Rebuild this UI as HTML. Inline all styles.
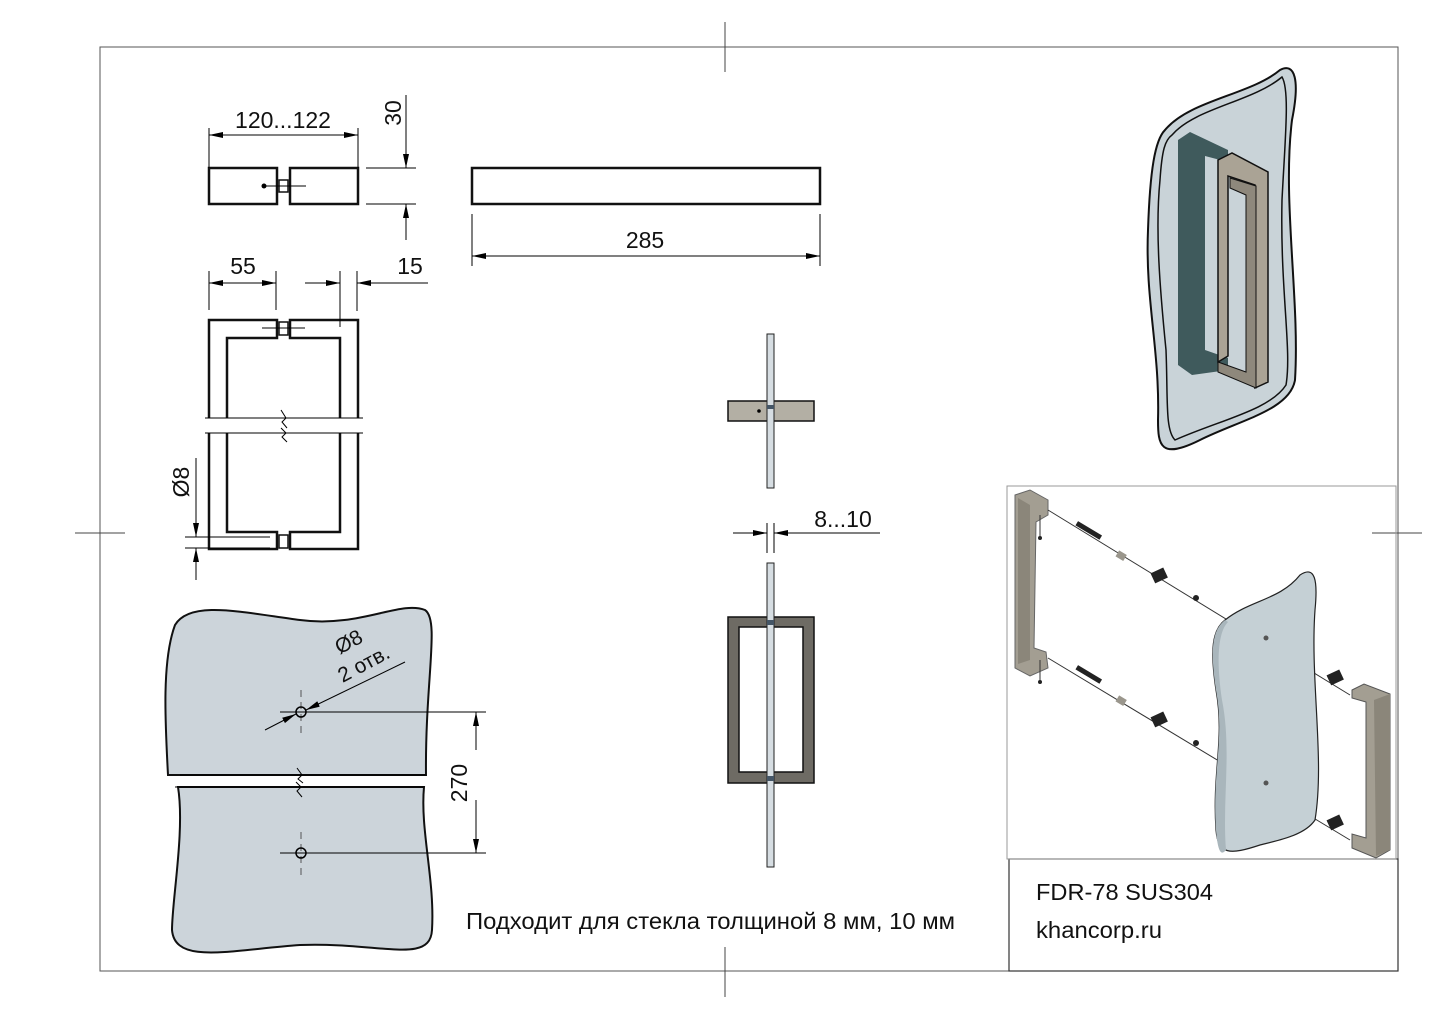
<!DOCTYPE html>
<html><head><meta charset="utf-8"><style>
html,body{margin:0;padding:0;background:#fff;}
svg{display:block;}
text{font-family:"Liberation Sans","DejaVu Sans",sans-serif;fill:#111;}
</style></head><body>
<svg width="1444" height="1021" viewBox="0 0 1444 1021" xmlns="http://www.w3.org/2000/svg">
<defs>
<marker id="a" viewBox="0 0 14 6" refX="14" refY="3" markerWidth="14" markerHeight="6" orient="auto" markerUnits="userSpaceOnUse"><path d="M0,0 L14,3 L0,6 z" fill="#000"/></marker>
</defs>
<rect width="1444" height="1021" fill="#fff"/>
<rect x="100" y="47" width="1298" height="924" fill="none" stroke="#555" stroke-width="1"/>
<g stroke="#444" stroke-width="1">
<line x1="725" y1="22" x2="725" y2="72"/><line x1="725" y1="947" x2="725" y2="997"/>
<line x1="75" y1="533" x2="125" y2="533"/><line x1="1372" y1="533" x2="1422" y2="533"/>
</g>
<rect x="1009" y="859" width="389" height="112" fill="none" stroke="#333" stroke-width="1.2"/>
<text x="1036" y="900" font-size="23" textLength="177" lengthAdjust="spacingAndGlyphs">FDR-78 SUS304</text>
<text x="1036" y="938" font-size="23" textLength="126" lengthAdjust="spacingAndGlyphs">khancorp.ru</text>
<rect x="1007" y="486" width="389" height="373" fill="none" stroke="#999" stroke-width="1"/>

<g stroke="#111" stroke-width="2.5" fill="none">
<rect x="209" y="168" width="68" height="36"/><rect x="290" y="168" width="68" height="36"/>
<rect x="279" y="180" width="9" height="12" stroke-width="1.5"/>
</g>
<circle cx="264" cy="186" r="2.5" fill="#000"/>
<line x1="264" y1="186" x2="306" y2="186" stroke="#000" stroke-width="1"/>
<g stroke="#000" stroke-width="1">
<line x1="209" y1="128" x2="209" y2="168"/><line x1="358" y1="128" x2="358" y2="168"/>
<line x1="225" y1="135" x2="209" y2="135" marker-end="url(#a)"/><line x1="225" y1="135" x2="358" y2="135" marker-end="url(#a)"/>
<line x1="366" y1="168" x2="416" y2="168"/><line x1="366" y1="204" x2="416" y2="204"/>
<line x1="406" y1="95" x2="406" y2="168" marker-end="url(#a)"/><line x1="406" y1="240" x2="406" y2="204" marker-end="url(#a)"/>
</g>
<text x="283" y="128" font-size="23" text-anchor="middle">120...122</text>
<text transform="translate(401,113) rotate(-90)" font-size="23" text-anchor="middle">30</text>

<rect x="472" y="168" width="348" height="36" fill="none" stroke="#111" stroke-width="2.5"/>
<g stroke="#000" stroke-width="1">
<line x1="472" y1="214" x2="472" y2="266"/><line x1="820" y1="214" x2="820" y2="266"/>
<line x1="600" y1="256" x2="472" y2="256" marker-end="url(#a)"/><line x1="600" y1="256" x2="820" y2="256" marker-end="url(#a)"/>
</g>
<text x="645" y="248" font-size="23" text-anchor="middle">285</text>

<g stroke="#111" stroke-width="2.5" fill="none">
<path d="M209,418 V320 H277 V338 H227 V418"/>
<path d="M358,418 V320 H290 V338 H340 V418"/>
<path d="M209,433 V549 H277 V532 H227 V433"/>
<path d="M358,433 V549 H290 V532 H340 V433"/>
<rect x="279" y="322" width="9" height="13" stroke-width="1.5"/>
<rect x="279" y="535" width="9" height="13" stroke-width="1.5"/>
</g>
<g stroke="#000" stroke-width="1" fill="none">
<line x1="205" y1="418" x2="363" y2="418"/><line x1="205" y1="433" x2="363" y2="433"/>
<path d="M281,410 L286,418 L282,422 L287,428"/><path d="M281,428 L286,433 L282,437 L287,442"/>
<line x1="262" y1="328" x2="305" y2="328"/>
<line x1="209" y1="271" x2="209" y2="310"/><line x1="276" y1="271" x2="276" y2="310"/>
<line x1="240" y1="283" x2="209" y2="283" marker-end="url(#a)"/><line x1="240" y1="283" x2="276" y2="283" marker-end="url(#a)"/>
<line x1="340" y1="271" x2="340" y2="327"/><line x1="357" y1="271" x2="357" y2="311"/>
<line x1="305" y1="283" x2="340" y2="283" marker-end="url(#a)"/><line x1="428" y1="283" x2="357" y2="283" marker-end="url(#a)"/>
<line x1="185" y1="537" x2="270" y2="537"/><line x1="185" y1="548" x2="270" y2="548"/>
<line x1="196" y1="458" x2="196" y2="537" marker-end="url(#a)"/><line x1="196" y1="580" x2="196" y2="548" marker-end="url(#a)"/>
</g>
<text x="243" y="274" font-size="23" text-anchor="middle">55</text>
<text x="410" y="274" font-size="23" text-anchor="middle">15</text>
<text transform="translate(189,482) rotate(-90)" font-size="23" text-anchor="middle">Ø8</text>

<path d="M168,775 C165,720 162,660 175,625 C190,600 240,612 300,620 C360,628 400,600 425,610 C440,620 425,680 426,775 Z" fill="#ccd4da" stroke="#111" stroke-width="2"/>
<path d="M178,787 C185,830 172,900 172,930 C175,965 230,950 300,945 C380,942 430,965 432,930 C435,880 420,830 424,787 Z" fill="#ccd4da" stroke="#111" stroke-width="2"/>
<g stroke="#000" stroke-width="1" fill="none">
<line x1="180" y1="775" x2="426" y2="775"/><line x1="175" y1="787" x2="424" y2="787"/>
<path d="M297,768 L302,775 L298,779 L303,783"/><path d="M296,782 L301,787 L297,791 L302,797"/>
<line x1="301" y1="690" x2="301" y2="735" stroke="#555" stroke-dasharray="7,5"/>
<line x1="301" y1="832" x2="301" y2="875" stroke="#555" stroke-dasharray="7,5"/>
<circle cx="301" cy="712" r="5" stroke-width="1.5"/><circle cx="301" cy="853" r="5" stroke-width="1.5"/>
<line x1="280" y1="712" x2="486" y2="712"/><line x1="280" y1="853" x2="486" y2="853"/>
<line x1="476" y1="750" x2="476" y2="712" marker-end="url(#a)"/><line x1="476" y1="800" x2="476" y2="853" marker-end="url(#a)"/>
<line x1="265" y1="730" x2="296" y2="714" marker-end="url(#a)"/>
<line x1="405" y1="662" x2="306" y2="710" marker-end="url(#a)"/>
</g>
<text transform="translate(467,783) rotate(-90)" font-size="23" text-anchor="middle">270</text>
<text transform="translate(352,648) rotate(-28)" font-size="21" text-anchor="middle">Ø8</text>
<text transform="translate(367,670) rotate(-28)" font-size="21" text-anchor="middle">2 отв.</text>

<text x="466" y="929" font-size="23" textLength="489" lengthAdjust="spacingAndGlyphs">Подходит для стекла толщиной 8 мм, 10 мм</text>

<rect x="728" y="401" width="86" height="20" fill="#b3afa4" stroke="#111" stroke-width="1.5"/>
<rect x="767" y="334" width="7" height="154" fill="#d6dde2" stroke="#222" stroke-width="1"/>
<circle cx="759" cy="411" r="1.8" fill="#000"/>
<rect x="767" y="405" width="7" height="4" fill="#456"/>
<g stroke="#000" stroke-width="1">
<line x1="767" y1="523" x2="767" y2="553"/><line x1="774" y1="523" x2="774" y2="553"/>
<line x1="733" y1="533" x2="767" y2="533" marker-end="url(#a)"/><line x1="880" y1="533" x2="774" y2="533" marker-end="url(#a)"/>
</g>
<text x="843" y="527" font-size="23" text-anchor="middle">8...10</text>
<path d="M728,617 H814 V783 H728 Z M739,627 V772 H803 V627 Z" fill="#6e6b64" fill-rule="evenodd" stroke="#111" stroke-width="1.5"/>
<rect x="767" y="563" width="7" height="304" fill="#d6dde2" stroke="#222" stroke-width="1"/>
<rect x="767" y="620" width="7" height="5" fill="#456"/><rect x="767" y="776" width="7" height="5" fill="#456"/>

<path d="M1165,130 C1190,100 1250,95 1280,70 C1295,62 1300,80 1292,120 C1282,200 1300,300 1295,380 C1290,410 1240,420 1200,440 C1160,460 1158,445 1158,420 C1160,350 1145,300 1148,230 C1150,170 1155,140 1165,130 Z" fill="#c9d3d8" stroke="#111" stroke-width="2"/>
<path d="M1172,135 C1195,108 1252,102 1282,77 C1290,90 1285,140 1282,200 C1280,290 1292,350 1286,385 C1270,410 1220,420 1175,440 C1165,430 1168,400 1166,350 C1160,290 1155,230 1160,180 C1162,150 1165,140 1172,135 Z" fill="#c9d3d8" stroke="#111" stroke-width="1.5"/>
<path d="M1178,140 L1190,132 L1228,150 L1228,162 L1205,156 L1205,350 L1228,358 L1228,370 L1192,375 L1178,365 Z" fill="#3f5a5c"/>
<path d="M1218,160 L1232,153 L1268,172 L1268,382 L1255,388 L1255,185 L1228,176 L1228,356 L1218,362 Z" fill="#aaa395" stroke="#111" stroke-width="1.5"/>
<path d="M1230,178 L1256,186 L1256,388 L1218,372 L1218,362 L1246,372 L1246,195 L1230,188 Z" fill="#8e887c" stroke="#111" stroke-width="1"/>

<path d="M1015,495 L1030,490 L1048,500 L1048,515 L1036,522 L1034,648 L1046,652 L1048,668 L1030,676 L1015,668 Z" fill="#a39e92" stroke="#666" stroke-width="1"/>
<path d="M1018,498 L1030,505 L1030,660 L1018,664 Z" fill="#8b867a"/>
<g stroke="#333" stroke-width="1">
<line x1="1048" y1="510" x2="1350" y2="695"/>
<line x1="1048" y1="658" x2="1350" y2="840"/>
<line x1="1040" y1="515" x2="1040" y2="536"/><line x1="1040" y1="660" x2="1040" y2="680"/>
</g>
<g fill="#222">
<rect x="1075" y="528" width="28" height="5" transform="rotate(31 1089 530)"/>
<rect x="1075" y="672" width="28" height="5" transform="rotate(31 1089 674)"/>
<rect x="1152" y="570" width="14" height="11" transform="rotate(-25 1159 575)"/>
<rect x="1152" y="714" width="14" height="11" transform="rotate(-25 1159 719)"/>
<rect x="1328" y="672" width="14" height="11" transform="rotate(-25 1335 677)"/>
<rect x="1328" y="817" width="14" height="11" transform="rotate(-25 1335 822)"/>
<circle cx="1196" cy="598" r="3"/><circle cx="1196" cy="743" r="3"/>
<circle cx="1040" cy="538" r="2"/><circle cx="1040" cy="682" r="2"/>
</g>
<g fill="#9a968c"><rect x="1117" y="552" width="9" height="7" transform="rotate(31 1121 555)"/><rect x="1117" y="697" width="9" height="7" transform="rotate(31 1121 700)"/></g>
<path d="M1225,620 C1250,600 1280,600 1300,575 C1315,565 1318,580 1315,610 C1310,680 1325,760 1315,820 C1305,835 1280,840 1260,845 C1230,855 1218,855 1216,830 C1212,770 1225,740 1216,690 C1210,650 1212,630 1225,620 Z" fill="#c5d0d5" stroke="#222" stroke-width="1.2"/>
<path d="M1225,620 C1212,630 1210,650 1216,690 C1225,740 1212,770 1216,830 C1218,855 1222,855 1226,850 C1222,800 1232,750 1222,700 C1216,660 1218,632 1228,622 Z" fill="#a9b6bc"/>
<circle cx="1266" cy="638" r="2.5" fill="#555"/><circle cx="1266" cy="783" r="2.5" fill="#555"/>
<path d="M1352,690 L1364,684 L1390,694 L1390,850 L1376,858 L1352,848 L1352,834 L1366,838 L1366,702 L1352,698 Z" fill="#a39e92" stroke="#555" stroke-width="1"/>
<path d="M1374,700 L1390,694 L1390,850 L1376,856 Z" fill="#8b867a"/>
</svg>
</body></html>
